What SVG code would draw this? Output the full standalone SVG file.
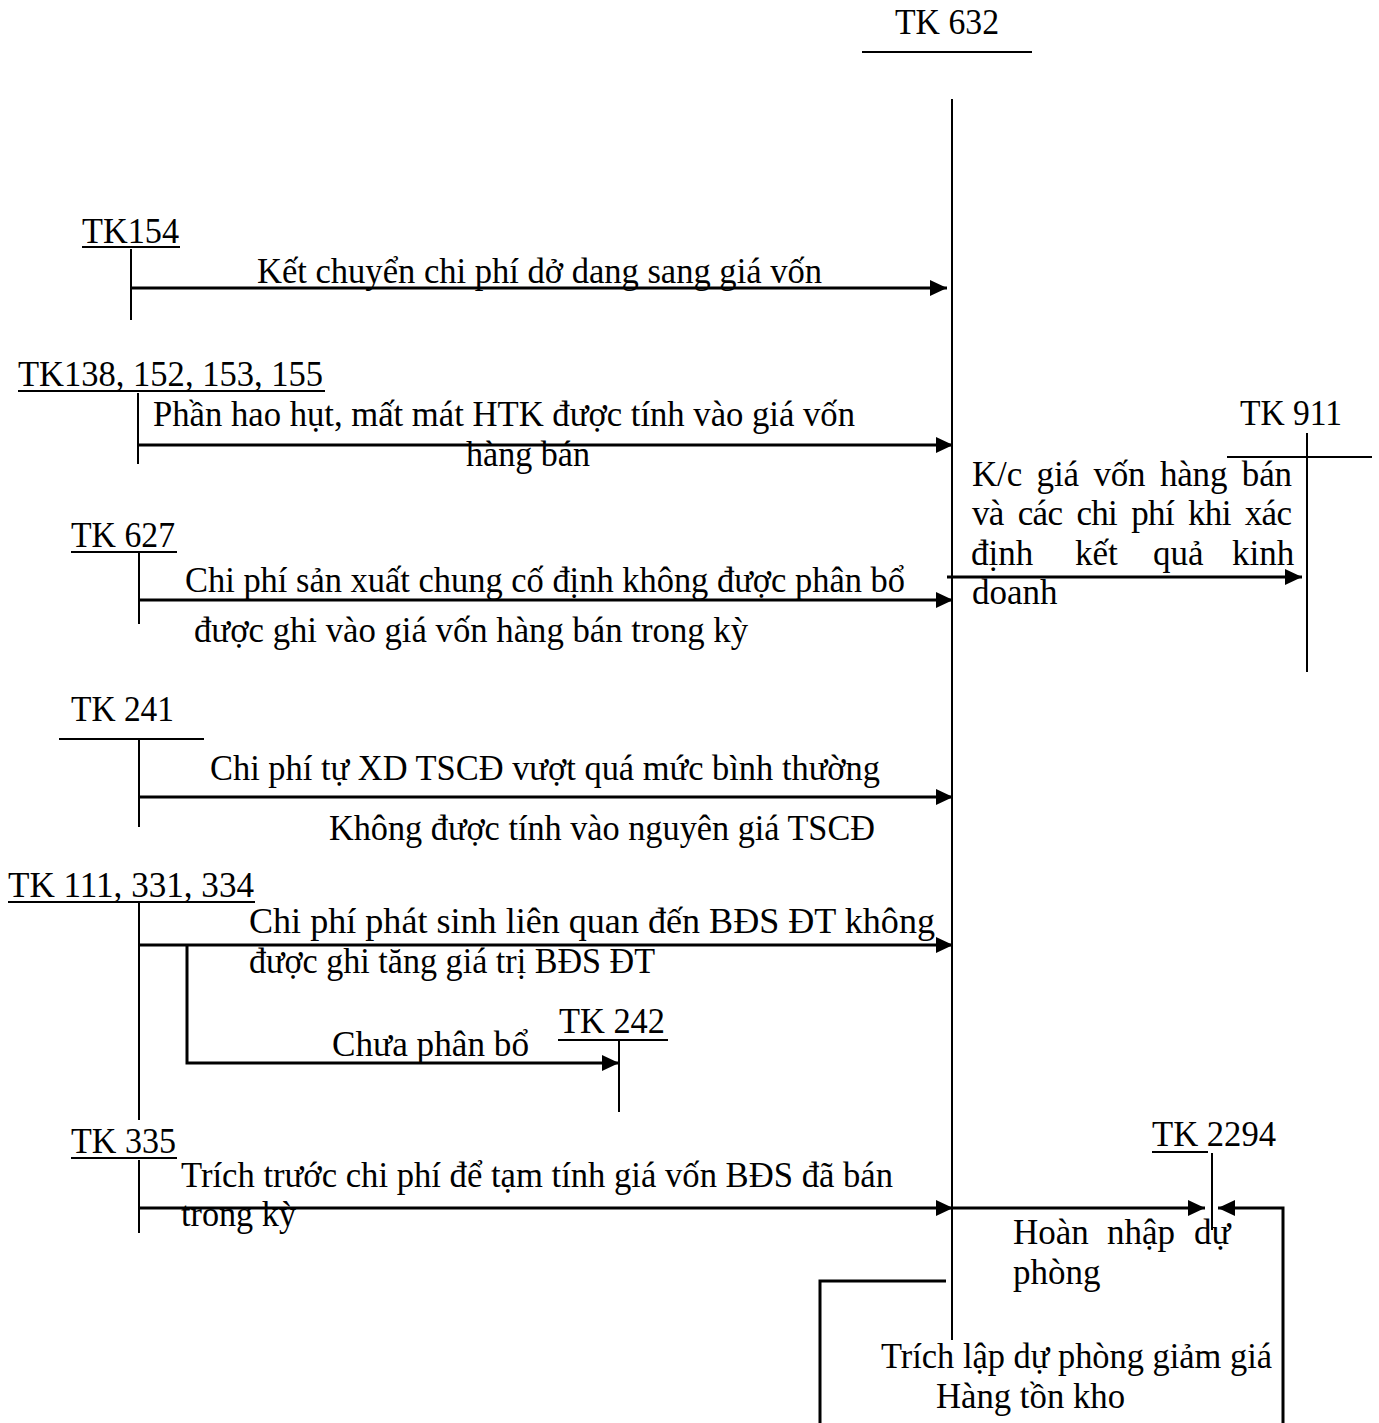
<svg xmlns="http://www.w3.org/2000/svg" width="1379" height="1423" viewBox="0 0 1379 1423">
<style>
text{font-family:"Liberation Serif","Times New Roman",serif;font-size:35px;fill:#000}
.ln{stroke:#000;stroke-width:2;fill:none}
.ar{stroke:#000;stroke-width:3;fill:none}
</style>
<defs>
<marker id="ah" markerUnits="userSpaceOnUse" markerWidth="18" markerHeight="18" refX="17" refY="8" orient="auto"><path d="M0,0 L17,8 L0,16 z" fill="#000"/></marker>
</defs>
<rect width="1379" height="1423" fill="#fff"/>

<g id="tk632">
<text x="947" y="34" text-anchor="middle" textLength="104" lengthAdjust="spacingAndGlyphs">TK 632</text>
<line class="ln" x1="862" y1="52" x2="1032" y2="52"/>
<line class="ln" x1="952" y1="99" x2="952" y2="1340"/>
</g>

<g id="tk154">
<text x="82" y="243" textLength="97" lengthAdjust="spacingAndGlyphs">TK154</text>
<line class="ln" x1="82" y1="247" x2="180" y2="247"/>
<line class="ln" x1="131" y1="249" x2="131" y2="320"/>
</g>

<g id="tk138">
<text x="18" y="386" textLength="305" lengthAdjust="spacingAndGlyphs">TK138, 152, 153, 155</text>
<line class="ln" x1="18" y1="391" x2="325" y2="391"/>
<line class="ln" x1="138" y1="393" x2="138" y2="464"/>
</g>

<g id="tk911">
<text x="1240" y="425" textLength="102" lengthAdjust="spacingAndGlyphs">TK 911</text>
<line class="ln" x1="1227" y1="457" x2="1372" y2="457"/>
<line class="ln" x1="1307" y1="433" x2="1307" y2="672"/>
</g>

<g id="tk627">
<text x="71" y="547" textLength="104" lengthAdjust="spacingAndGlyphs">TK 627</text>
<line class="ln" x1="71" y1="552" x2="177" y2="552"/>
<line class="ln" x1="139" y1="552" x2="139" y2="624"/>
</g>

<g id="tk241">
<text x="71" y="721" textLength="103" lengthAdjust="spacingAndGlyphs">TK 241</text>
<line class="ln" x1="59" y1="739" x2="204" y2="739"/>
<line class="ln" x1="139" y1="739" x2="139" y2="827"/>
</g>

<g id="tk111">
<text x="8" y="897" textLength="246" lengthAdjust="spacingAndGlyphs">TK 111, 331, 334</text>
<line class="ln" x1="8" y1="902" x2="255" y2="902"/>
<line class="ln" x1="139" y1="902" x2="139" y2="1120"/>
</g>

<g id="tk242">
<text x="559" y="1033" textLength="106" lengthAdjust="spacingAndGlyphs">TK 242</text>
<line class="ln" x1="558" y1="1040" x2="668" y2="1040"/>
<line class="ln" x1="619" y1="1040" x2="619" y2="1112"/>
</g>

<g id="tk335">
<text x="71" y="1153" textLength="105" lengthAdjust="spacingAndGlyphs">TK 335</text>
<line class="ln" x1="71" y1="1158" x2="177" y2="1158"/>
<line class="ln" x1="139" y1="1160" x2="139" y2="1233"/>
</g>

<g id="tk2294">
<text x="1152" y="1146" textLength="124" lengthAdjust="spacingAndGlyphs">TK 2294</text>
<line class="ln" x1="1152" y1="1152" x2="1208" y2="1152"/>
<line class="ln" x1="1212" y1="1153" x2="1212" y2="1230"/>
</g>

<g id="connectors">
<line class="ar" x1="131" y1="288" x2="947" y2="288" marker-end="url(#ah)"/>
<line class="ar" x1="138" y1="445" x2="953" y2="445" marker-end="url(#ah)"/>
<line class="ar" x1="947" y1="577" x2="1302" y2="577" marker-end="url(#ah)"/>
<line class="ar" x1="139" y1="600" x2="953" y2="600" marker-end="url(#ah)"/>
<line class="ar" x1="139" y1="797" x2="953" y2="797" marker-end="url(#ah)"/>
<line class="ar" x1="139" y1="945" x2="953" y2="945" marker-end="url(#ah)"/>
<polyline class="ar" points="187,945 187,1063 619,1063" marker-end="url(#ah)"/>
<line class="ar" x1="139" y1="1208" x2="953" y2="1208" marker-end="url(#ah)"/>
<line class="ar" x1="953" y1="1208" x2="1205" y2="1208" marker-end="url(#ah)"/>
<polyline class="ar" points="1283,1423 1283,1208 1218,1208" marker-end="url(#ah)"/>
<polyline class="ar" points="820,1423 820,1281 946,1281"/>
</g>

<g id="labels">
<text x="257" y="283" textLength="565" lengthAdjust="spacingAndGlyphs">Kết chuyển chi phí dở dang sang giá vốn</text>
<text x="153" y="426" textLength="702" lengthAdjust="spacingAndGlyphs">Phần hao hụt, mất mát HTK được tính vào giá vốn</text>
<text x="466" y="466" textLength="124" lengthAdjust="spacingAndGlyphs">hàng bán</text>
<text x="972" y="486" textLength="320" word-spacing="6">K/c giá vốn hàng bán</text>
<text x="972" y="525" textLength="320" word-spacing="6">và các chi phí khi xác</text>
<text y="565"><tspan x="971">định</tspan><tspan x="1075">kết</tspan><tspan x="1153">quả</tspan><tspan x="1232">kinh</tspan></text>
<text x="972" y="604">doanh</text>
<text x="185" y="592" textLength="720" lengthAdjust="spacingAndGlyphs">Chi phí sản xuất chung cố định không được phân bổ</text>
<text x="194" y="642" textLength="554" lengthAdjust="spacingAndGlyphs">được ghi vào giá vốn hàng bán trong kỳ</text>
<text x="210" y="780" textLength="670" lengthAdjust="spacingAndGlyphs">Chi phí tự XD TSCĐ vượt quá mức bình thường</text>
<text x="329" y="840" textLength="546" lengthAdjust="spacingAndGlyphs">Không được tính vào nguyên giá TSCĐ</text>
<text x="249" y="933" textLength="686" lengthAdjust="spacingAndGlyphs">Chi phí phát sinh liên quan đến BĐS ĐT không</text>
<text x="249" y="973" textLength="406" lengthAdjust="spacingAndGlyphs">được ghi tăng giá trị BĐS ĐT</text>
<text x="332" y="1056" textLength="197" lengthAdjust="spacingAndGlyphs">Chưa phân bổ</text>
<text x="181" y="1187" textLength="712" lengthAdjust="spacingAndGlyphs">Trích trước chi phí để tạm tính giá vốn BĐS đã bán</text>
<text x="181" y="1226" textLength="115" lengthAdjust="spacingAndGlyphs">trong kỳ</text>
<text y="1244"><tspan x="1013">Hoàn</tspan><tspan x="1107">nhập</tspan><tspan x="1194">dự</tspan></text>
<text x="1013" y="1284">phòng</text>
<text x="881" y="1368" textLength="391" lengthAdjust="spacingAndGlyphs">Trích lập dự phòng giảm giá</text>
<text x="936" y="1408" textLength="189" lengthAdjust="spacingAndGlyphs">Hàng tồn kho</text>
</g>
</svg>
